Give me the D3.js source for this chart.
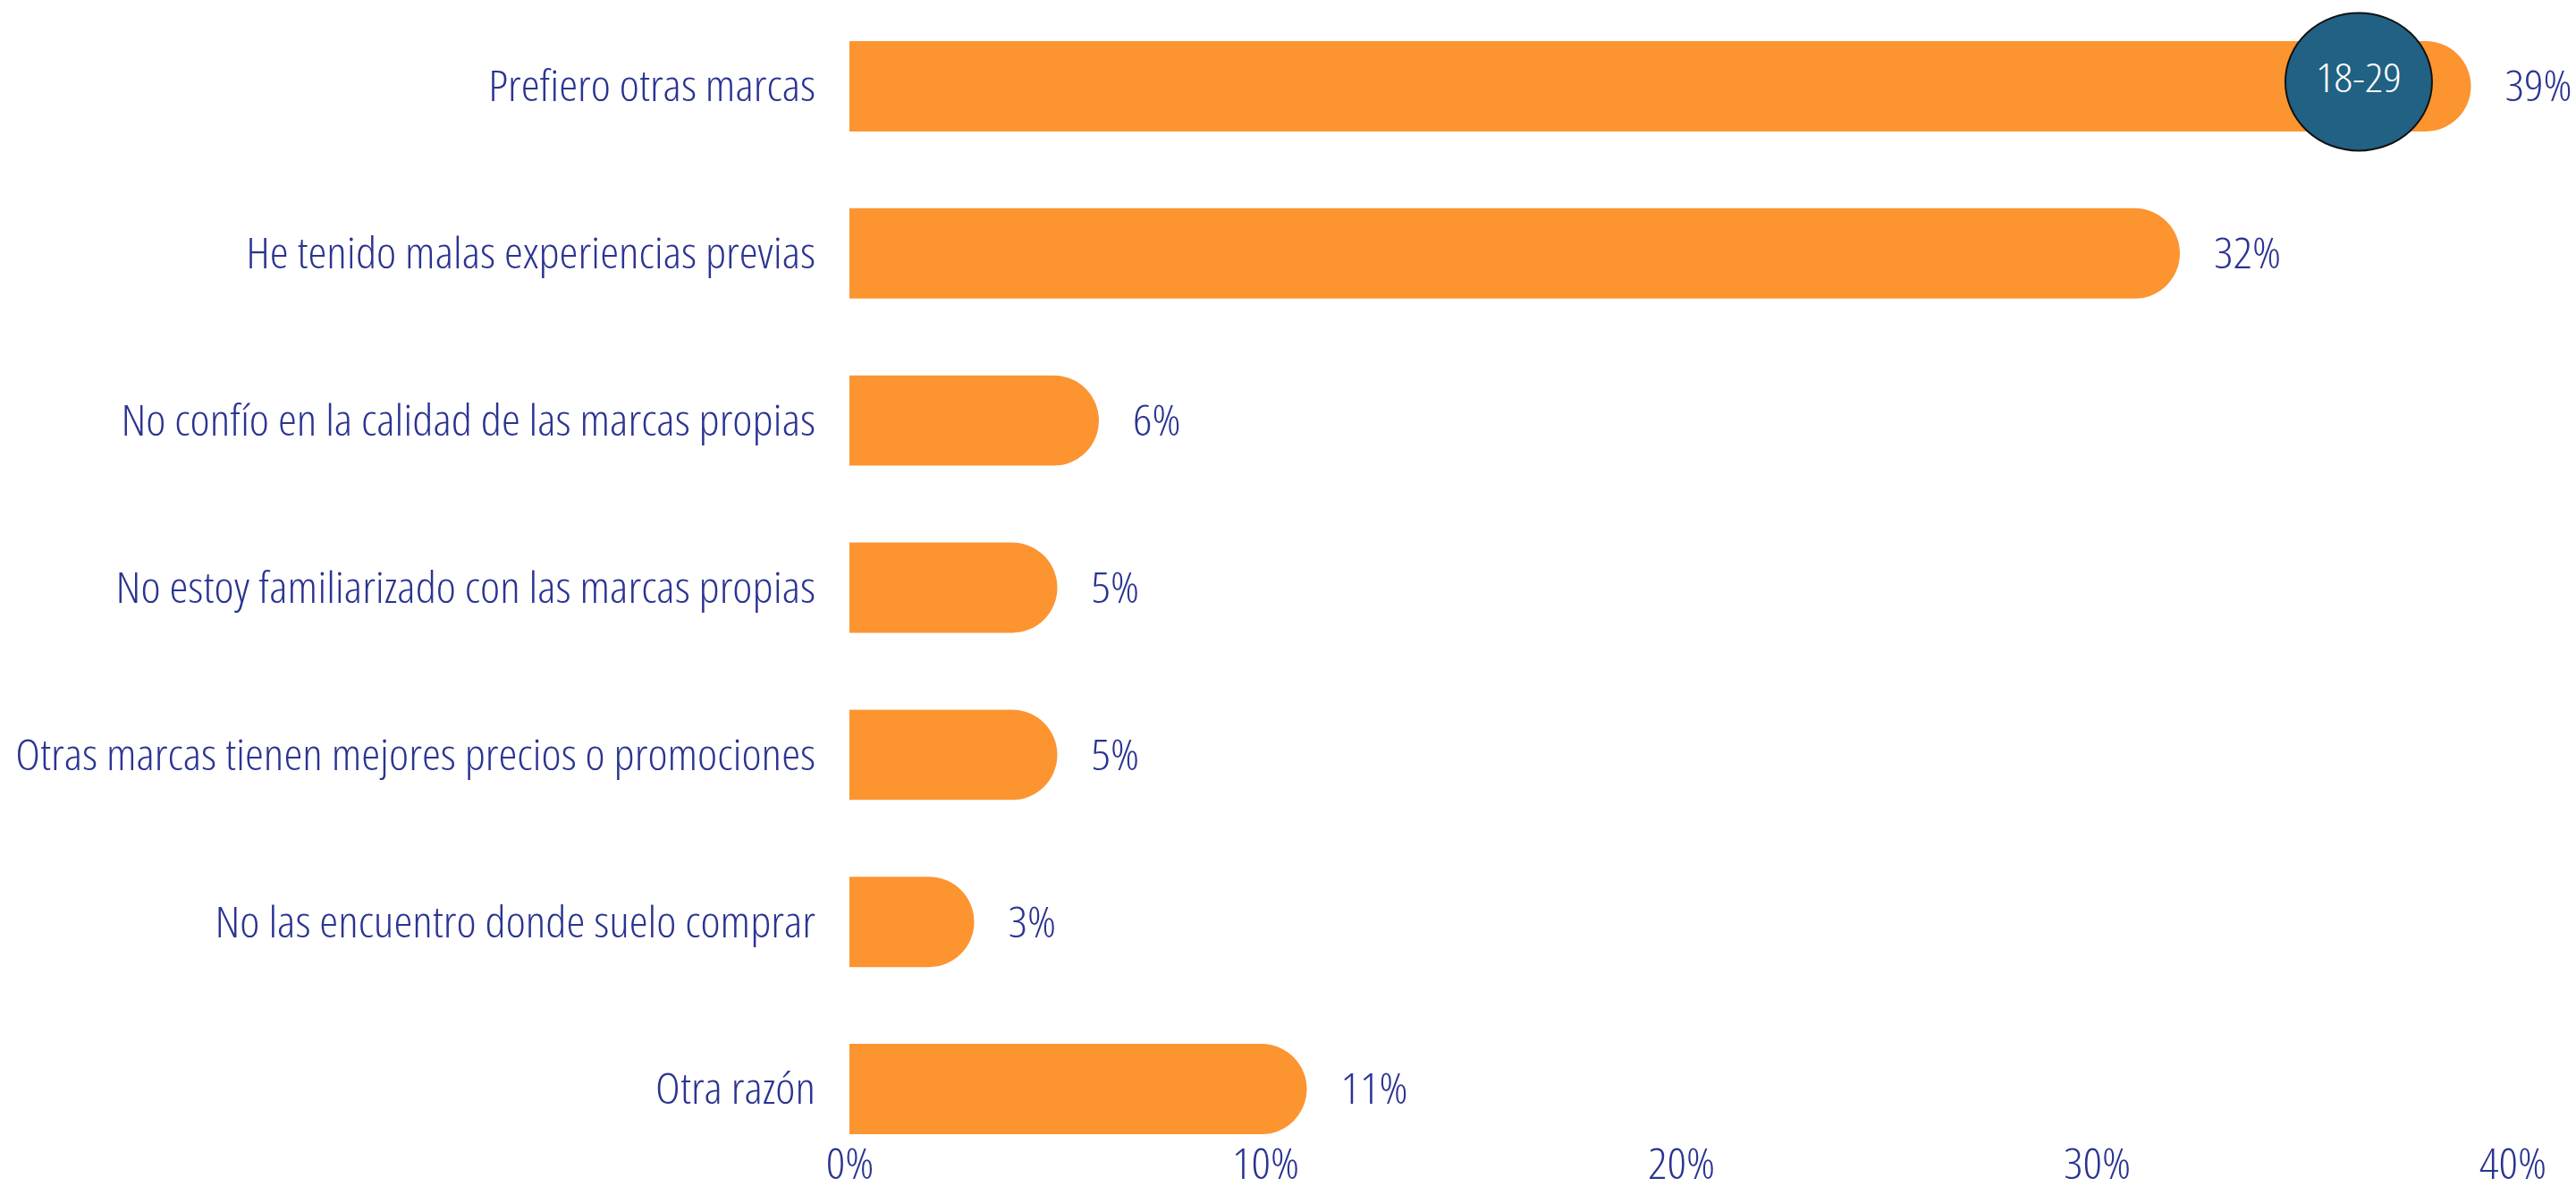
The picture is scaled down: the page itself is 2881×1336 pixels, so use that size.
<!DOCTYPE html>
<html>
<head>
<meta charset="utf-8">
<script src="https://cdn.jsdelivr.net/npm/d3@7"></script>
<style>
  html, body { margin: 0; padding: 0; background: #fff; overflow: hidden; }
  text { font-family: "Open Sans", "DejaVu Sans Condensed", sans-serif; font-weight: 300; font-stretch: 75%; }
</style>
</head>
<body>
<div id="chart"></div>
<script>
// Data
const categories = [
  "Prefiero otras marcas",
  "He tenido malas experiencias previas",
  "No confío en la calidad de las marcas propias",
  "No estoy familiarizado con las marcas propias",
  "Otras marcas tienen mejores precios o promociones",
  "No las encuentro donde suelo comprar",
  "Otra razón"
];
const values = [39, 32, 6, 5, 5, 3, 11];
const tickValues = [0, 10, 20, 30, 40];
// age-group badge sitting on the first bar
const badgeLabels = ["18-29"];
const badgeCategories = ["Prefiero otras marcas"];
const badgeValues = [36.3];

const width = 2881;
const height = 1336;
const textColor = "#2b3491";
const barColor = "#fc9430";
const badgeColor = "#216183";
const fontSize = 47;
const labelPad = 38;

const rows = categories.map((c, i) => ({ category: c, value: values[i] }));

const svg = d3.select("#chart")
  .append("svg")
  .attr("width", width)
  .attr("height", height);

const x = d3.scaleLinear().domain([0, 40]).range([950, 2810]);
const y = d3.scaleBand().domain(categories).range([46, 1268]).paddingInner(0.46).paddingOuter(0);

// match the width of the original narrow font: stretch/squeeze text so the
// longest category takes the same room as in the original (~895px)
const probe = svg.append("text")
  .style("font-size", fontSize + "px")
  .text(categories[4]);
const sx = 895 / probe.node().getComputedTextLength();
probe.remove();

// bars with a rounded right end
const r = y.bandwidth() / 2;
svg.append("g")
  .selectAll("path")
  .data(rows)
  .enter()
  .append("path")
  .attr("fill", barColor)
  .attr("d", d => {
    const x0 = x(0), xe = x(d.value), top = y(d.category), h = y.bandwidth();
    return `M${x0},${top} H${xe - r} A${r},${r} 0 0 1 ${xe - r},${top + h} H${x0} Z`;
  });

// value labels
svg.append("g")
  .selectAll("text")
  .data(rows)
  .enter()
  .append("text")
  .attr("transform", d => `translate(${x(d.value) + 38},${y(d.category) + y.bandwidth() / 2}) scale(${sx},1)`)
  .attr("dy", "0.36em")
  .attr("fill", textColor)
  .style("font-size", fontSize + "px")
  .text(d => d.value + "%");

// category axis
const yAxis = svg.append("g")
  .attr("transform", `translate(${x(0)},0)`)
  .call(d3.axisLeft(y).tickSize(0).tickPadding(labelPad));
yAxis.select(".domain").remove();
yAxis.selectAll("text")
  .attr("x", -labelPad / sx)
  .attr("transform", `scale(${sx},1)`)
  .attr("fill", textColor)
  .attr("dy", "0.36em")
  .style("font-size", fontSize + "px")
  .style("font-family", null);

// percentage axis (sits right at the bottom edge)
const xAxis = svg.append("g")
  .attr("transform", `translate(0,1284)`)
  .call(d3.axisBottom(x).tickValues(tickValues).tickSize(0).tickFormat(d => d + "%"));
xAxis.select(".domain").remove();
xAxis.selectAll("text")
  .attr("fill", textColor)
  .attr("y", 0)
  .attr("dy", "0.72em")
  .attr("transform", `scale(${sx},1)`)
  .style("font-size", fontSize + "px")
  .style("font-family", null);

// badge
const badges = badgeLabels.map((l, i) => ({ label: l, category: badgeCategories[i], value: badgeValues[i] }));
const badge = svg.append("g")
  .selectAll("g")
  .data(badges)
  .enter()
  .append("g")
  .attr("transform", d => `translate(${x(d.value)},${y(d.category) + y.bandwidth() / 2 - 5})`);
badge.append("ellipse")
  .attr("rx", 82)
  .attr("ry", 77)
  .attr("fill", badgeColor)
  .attr("stroke", "#111")
  .attr("stroke-width", 2);
badge.append("text")
  .attr("text-anchor", "middle")
  .attr("transform", `scale(${sx},1)`)
  .attr("y", -5)
  .attr("dy", "0.36em")
  .attr("fill", "#fff")
  .style("font-size", "45px")
  .text(d => d.label);
</script>
</body>
</html>
